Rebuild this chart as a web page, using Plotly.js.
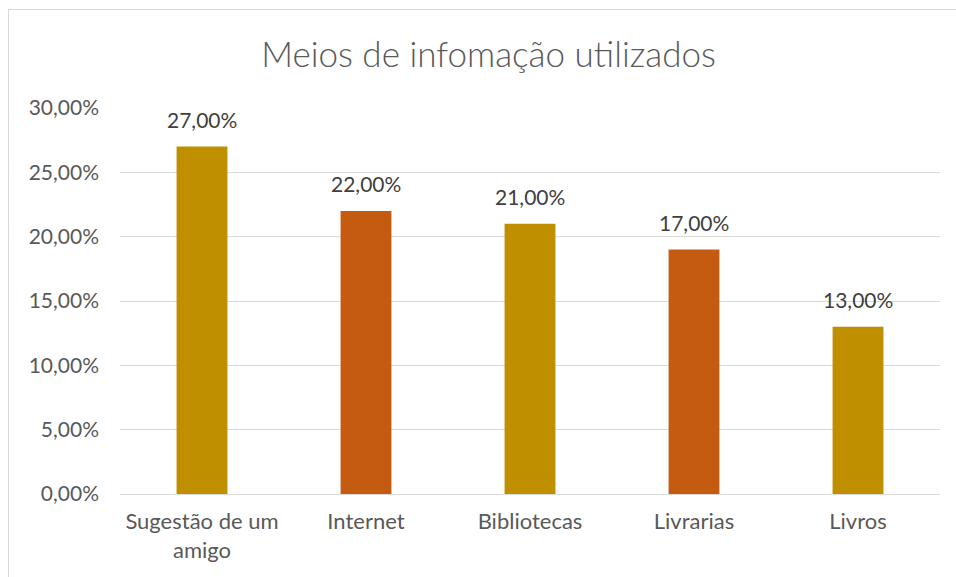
<!DOCTYPE html>
<html>
<head>
<meta charset="utf-8">
<script src="https://cdn.plot.ly/plotly-3.0.1.min.js"></script>
<style>
  html, body { margin: 0; padding: 0; background: #ffffff; overflow: hidden; }
  #chart { position: absolute; left: 0; top: 0; width: 956px; height: 577px; }
  #frame { position: absolute; left: 8px; top: 9px; width: 960px; height: 600px;
           border: 1px solid #d9d9d9; pointer-events: none; box-sizing: border-box; }
</style>
</head>
<body>
<div id="chart"></div>
<div id="frame"></div>
<script>
const categories = ["Sugestão de um<br>amigo", "Internet", "Bibliotecas", "Livrarias", "Livros"];
const values = [27, 22, 21, 19, 13];
const labels = ["27,00%", "22,00%", "21,00%", "17,00%", "13,00%"];
const barColors = ["#BF8F00", "#C55A11", "#BF8F00", "#C55A11", "#BF8F00"];
const tickValues = [0, 5, 10, 15, 20, 25, 30];
const tickLabels = ["0,00%", "5,00%", "10,00%", "15,00%", "20,00%", "25,00%", "30,00%"];

const FONT = "Lato, 'Open Sans', sans-serif";

const trace = {
  type: "bar",
  x: categories,
  y: values,
  marker: { color: barColors, line: { width: 0 } },
  width: 0.31,
  hoverinfo: "none"
};

const annotations = categories.map((c, i) => ({
  x: c, y: values[i], xref: "x", yref: "y",
  text: labels[i], showarrow: false,
  yanchor: "bottom", yshift: 13,
  font: { family: FONT, size: 21, color: "#404040" }
}));

const layout = {
  width: 956, height: 577,
  margin: { l: 120, r: 16, t: 108, b: 83 },
  paper_bgcolor: "rgba(0,0,0,0)",
  plot_bgcolor: "#ffffff",
  showlegend: false,
  title: {
    text: "Meios de infomação utilizados",
    x: 0.511, xanchor: "center",
    y: 0.905, yanchor: "middle",
    font: { family: FONT, size: 35, color: "#595959", weight: 300 }
  },
  xaxis: {
    type: "category",
    showgrid: false, showline: false, zeroline: false,
    ticks: "", ticklabelstandoff: 12,
    tickfont: { family: FONT, size: 22, color: "#595959" }
  },
  yaxis: {
    range: [0, 30],
    tickvals: tickValues, ticktext: tickLabels,
    showgrid: true, gridcolor: "#d9d9d9", gridwidth: 1,
    zeroline: true, zerolinecolor: "#d9d9d9", zerolinewidth: 1,
    showline: false, ticks: "", ticklabelstandoff: 20,
    tickfont: { family: FONT, size: 21, color: "#595959" }
  },
  annotations: annotations,
  bargap: 0.69
};

Plotly.newPlot("chart", [trace], layout, { displayModeBar: false, staticPlot: true });
</script>
</body>
</html>
